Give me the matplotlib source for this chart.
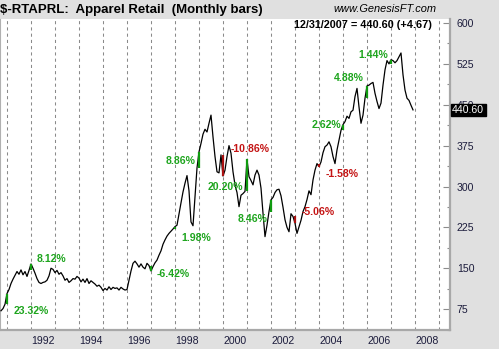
import matplotlib
matplotlib.use("Agg")
import matplotlib.pyplot as plt
from matplotlib import transforms

plt.rcParams["font.family"] = ["Liberation Sans", "DejaVu Sans"]

# Monthly closes of the $-RTAPRL index, Oct 1990 .. Dec 2007
first_year, first_month = 1990, 10
closes = [
    72, 76, 84,                                                          # 1990 Oct-Dec
    103.6, 111, 122, 130, 137, 144, 139, 147, 138, 144, 135, 146,        # 1991
    157.9, 150, 141, 131, 124, 122, 124, 125, 128, 136, 150, 148,        # 1992
    142, 146, 139, 142, 136, 128, 131, 124, 127, 131, 130, 135,          # 1993
    132, 125, 130, 124, 131, 122, 127, 124, 121, 117, 119, 115,          # 1994
    109, 113, 110, 116, 111, 115, 113, 114, 110, 115, 112, 110,          # 1995
    111, 128, 145, 159, 163, 158, 152, 158, 152, 149, 159, 155,          # 1996
    145, 153, 160, 165, 174, 182, 194, 202, 209, 214, 218, 222,          # 1997
    226.4, 229, 250, 270, 290, 306, 320, 292, 235, 228, 280, 334,        # 1998
    363.6, 379, 396, 405, 400, 416, 431, 391, 355, 327, 325, 358,        # 1999
    319.1, 330, 355, 375, 361, 327, 303, 289, 263, 284, 287, 291,        # 2000
    349.8, 318, 311, 303, 321, 330, 321, 297, 251, 208, 229, 254,        # 2001
    275.5, 280, 289, 294, 295, 283, 262, 239, 225, 217, 250, 245,        # 2002
    232.6, 214, 226, 238, 254, 263, 276, 292, 285, 312, 330, 342,        # 2003
    336.6, 345, 362, 373, 376, 382, 373, 355, 342, 367, 385, 403,        # 2004
    413.6, 419, 429, 425, 437, 440, 465, 480, 446, 416, 431, 462,        # 2005
    484.5, 486, 489, 491, 471, 456, 443, 453, 486, 514, 531, 525,        # 2006
    532.6, 531, 527, 531, 538, 545, 505, 477, 462, 458, 449, 440.60,     # 2007
]

# January moves that are highlighted on the chart
jan_years = [1991, 1992, 1997, 1998, 1999, 2000, 2001, 2002, 2003, 2004, 2005, 2006, 2007]
jan_pct = [23.32, 8.12, -6.42, 1.98, 8.86, -10.86, 20.20, 8.46, -5.06, -1.58, 2.62, 4.88, 1.44]
jan_signal = ["up", "up", "up", "up", "up", "down", "up", "up", "down", "down", "up", "up", "up"]

last_label = "12/31/2007"
last_change = 4.67
y_ticks = [75, 150, 225, 300, 375, 450, 525, 600]
x_tick_years = [1992, 1994, 1996, 1998, 2000, 2002, 2004, 2006, 2008]

# label placement around each January bar (pixels, horizontal alignment)
label_offsets = {
    1991: (7, -17.5, "left"), 1992: (6, 5, "left"), 1997: (6, -3, "left"),
    1998: (6, -11, "left"), 1999: (-3, -9, "right"), 2000: (8, 27, "left"),
    2001: (-4, -28, "right"), 2002: (-3, -19, "right"), 2003: (7, 11, "left"),
    2004: (7, -7, "left"), 2005: (-2, 0, "right"), 2006: (-3, 8, "right"),
    2007: (-3, 5, "right"),
}

# time axis in fractional years
times = []
for i in range(len(closes)):
    k = first_month - 1 + i
    times.append(first_year + k // 12 + (k % 12) / 12.0)

# January closes follow from December close and the stated change
series = list(closes)
bars = []
for yr, pct in zip(jan_years, jan_pct):
    idx = (yr - first_year) * 12 - (first_month - 1)
    dec = series[idx - 1]
    series[idx] = dec * (1 + pct / 100.0)
    bars.append((yr, dec, series[idx]))

BG = "#e0e0e0"
GREEN_BAR, RED_BAR = "#109a10", "#a81010"
GREEN_TXT, RED_TXT = "#1ea51e", "#c41414"

fig = plt.figure(figsize=(4.99, 3.49), dpi=100, facecolor=BG)
ax = fig.add_axes([0.0, 1 - 330 / 349, 450 / 499, (330 - 18.5) / 349])
ax.set_facecolor("white")

ax.plot(times, series, color="black", lw=0.9, zorder=3)

for (yr, dec, jan), sig in zip(bars, jan_signal):
    ax.vlines(yr, min(dec, jan), max(dec, jan),
              color=GREEN_BAR if sig == "up" else RED_BAR, lw=1.6, zorder=4)

for (yr, dec, jan), pct, sig in zip(bars, jan_pct, jan_signal):
    dx, dy, ha = label_offsets[yr]
    ax.annotate(f"{pct:.2f}%", (yr, jan), xytext=(dx, dy), textcoords="offset pixels",
                ha=ha, va="center", fontsize=7.6, fontweight="bold",
                color=GREEN_TXT if sig == "up" else RED_TXT, zorder=5)

ax.set_xlim(1991 - 7 / 24, 1991 + 443 / 24)
ax.set_ylim(600 - (330 - 23) / 0.545, 600 + (23 - 18.5) / 0.545)

# dashed year grid
ax.set_xticks(range(1991, 2010), minor=True)
ax.grid(which="minor", axis="x", linestyle=(0, (3, 3)), color="#8a8a8a", lw=0.75)
ax.set_xticks([y + 0.5 for y in x_tick_years])
ax.set_xticklabels([str(y) for y in x_tick_years])
ax.tick_params(axis="x", which="both", length=0, pad=4, labelsize=7.6, labelcolor="#1c1c3c")

ax.yaxis.tick_right()
ax.set_yticks(y_ticks)
ax.set_yticks([v + 37.5 for v in [0] + y_ticks[:-1]], minor=True)
ax.tick_params(axis="y", which="major", direction="in", length=5, width=0.8,
               color="#8c8c8c", labelsize=7.6, pad=5, labelcolor="#1c1c3c")
ax.tick_params(axis="y", which="minor", direction="in", length=2.5, width=0.8, color="#8c8c8c")

ax.spines["top"].set_visible(False)
ax.spines["right"].set_color("#a8a8a8")
ax.spines["right"].set_linewidth(1.6)
ax.spines["bottom"].set_color("#a8a8a8")
ax.spines["bottom"].set_linewidth(1.6)
ax.spines["left"].set_color("#b0b0b0")
ax.spines["left"].set_linewidth(0.8)

# last value marker on the price scale
trans = transforms.blended_transform_factory(ax.transAxes, ax.transData)
ax.text(1.005, series[-1], f"{series[-1]:.2f}", transform=trans, ha="left", va="center",
        fontsize=7.6, color="white", zorder=10, clip_on=False,
        bbox=dict(boxstyle="square,pad=0.12", facecolor="black", edgecolor="black"))

ax.text(432 / 450, 1 - 1.5 / 311.5, f"{last_label} = {series[-1]:.2f} (+{last_change:.2f})",
        transform=ax.transAxes, ha="right", va="top", fontsize=7.8, fontweight="bold",
        color="black")

fig.text(0.0, 1 - 9.5 / 349, "$-RTAPRL:  Apparel Retail  (Monthly bars)", ha="left",
         va="center", fontsize=9.5, fontweight="bold", color="black", parse_math=False)
fig.text(385 / 499, 1 - 9 / 349, "www.GenesisFT.com", ha="center", va="center",
         fontsize=7.9, fontstyle="italic", color="black")

fig.savefig("out.png", dpi=100, facecolor=BG)
